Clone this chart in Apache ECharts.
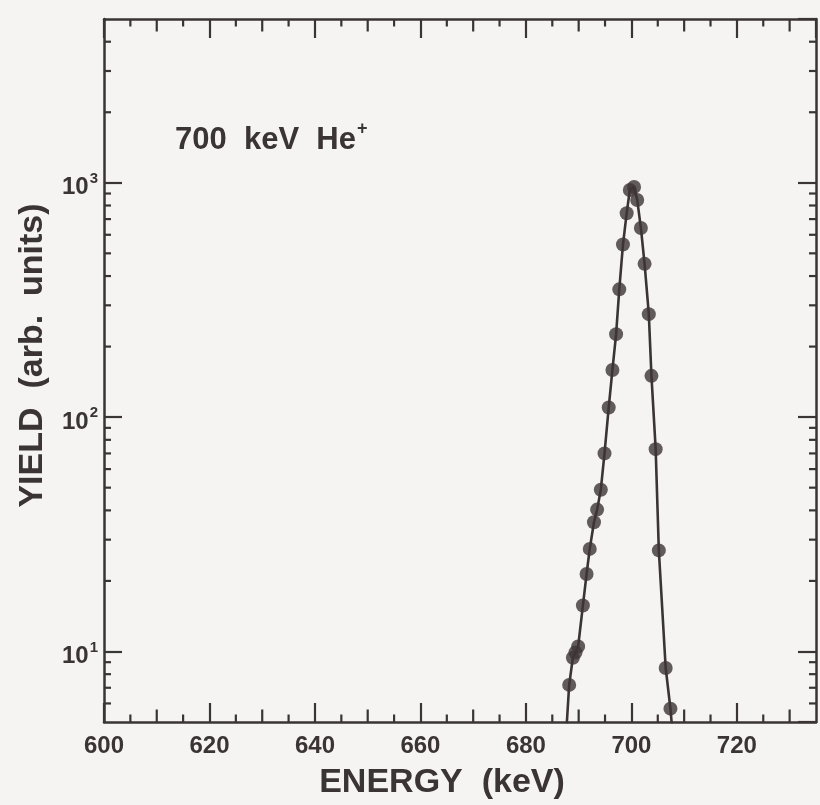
<!DOCTYPE html>
<html><head><meta charset="utf-8">
<script src="https://cdn.jsdelivr.net/npm/echarts@6/dist/echarts.min.js"></script>
<style>html,body{margin:0;padding:0;background:#f6f4f2}#c{width:820px;height:805px}</style>
</head><body><div id="c"></div>
<script>
// Measured spectrum: energy (keV) and yield (arb. units)
const energy   = [688.2, 688.9, 689.4, 689.9, 690.8, 691.5, 692.1, 692.9, 693.5, 694.2, 694.9, 695.7, 696.4, 697.1, 697.7, 698.4, 699.1, 699.7, 700.5, 701.1, 701.8, 702.5, 703.3, 703.8, 704.6, 705.2, 706.5, 707.4];
const yieldVal = [7.2, 9.4, 9.9, 10.5, 15.7, 21.4, 27.4, 35.6, 40.3, 49, 70, 110, 159, 226, 351, 545, 741, 931, 960, 845, 641, 451, 275, 150, 73, 27, 8.5, 5.7];
// Fitted curve continues below the plot bottom at both ends
const tailEnergy = [687.5, 708.0];
const tailYield  = [4.0, 4.0];
// Axis ticks
const xLabels = [600, 620, 640, 660, 680, 700, 720];
const xMidTicks = [610, 630, 650, 670, 690, 710, 730];
const xMinorTicks = [605, 615, 625, 635, 645, 655, 665, 675, 685, 695, 705, 715, 725];
const yDecades = [10, 100, 1000];
const yMinorTicks = [6, 7, 8, 9, 20, 30, 40, 50, 60, 70, 80, 90, 200, 300, 400, 500, 600, 700, 800, 900, 2000, 3000, 4000];
const xMin = 600, xMax = 735, yMin = 5, yMax = 5000;

const INK = '#3a3434';
const FONT = '"Liberation Sans", Arial, Helvetica, sans-serif';

const curveData = [[tailEnergy[0], tailYield[0]]]
  .concat(energy.map((e, i) => [e, yieldVal[i]]))
  .concat([[tailEnergy[1], tailYield[1]]]);
const pointData = energy.map((e, i) => [e, yieldVal[i]]);

const tickItems = [];
xMidTicks.forEach(v => tickItems.push({ value: [v, yMin], kind: 'xmid' }));
xMinorTicks.forEach(v => tickItems.push({ value: [v, yMin], kind: 'xmin' }));
yMinorTicks.forEach(v => tickItems.push({ value: [xMin, v], kind: 'ymin' }));

const supMap = { 10: '1', 100: '2', 1000: '3' };

const chart = echarts.init(document.getElementById('c'), null, { renderer: 'canvas' });
const axisLineStyle = { color: INK, width: 2.5 };
chart.setOption({
  backgroundColor: '#f6f4f2',
  animation: false,
  grid: { left: 104, right: 4, top: 19, bottom: 78, containLabel: false },
  xAxis: [{
    type: 'value', min: xMin, max: xMax, interval: 20, position: 'bottom',
    axisLine: { show: true, lineStyle: axisLineStyle },
    axisTick: { show: true, inside: true, length: 19, lineStyle: { color: INK, width: 2.2 } },
    splitLine: { show: false },
    axisLabel: { show: true, color: INK, fontFamily: FONT, fontWeight: 'bold', fontSize: 24, margin: 12,
      showMaxLabel: false,
      formatter: v => xLabels.indexOf(v) >= 0 ? String(v) : '' },
    name: 'ENERGY  (keV)', nameLocation: 'middle', nameGap: 44,
    nameTextStyle: { color: INK, fontFamily: FONT, fontWeight: 'bold', fontSize: 34, padding: [0, 36, 0, 0] }
  }, {
    type: 'value', min: xMin, max: xMax, interval: 20, position: 'top',
    axisLine: { show: true, lineStyle: axisLineStyle },
    axisTick: { show: true, inside: true, length: 19, lineStyle: { color: INK, width: 2.2 } },
    splitLine: { show: false }, axisLabel: { show: false }
  }],
  yAxis: [{
    type: 'log', logBase: 10, min: yMin, max: yMax, position: 'left',
    axisLine: { show: true, lineStyle: axisLineStyle },
    axisTick: { show: true, inside: true, length: 18, lineStyle: { color: INK, width: 2.2 } },
    splitLine: { show: false },
    axisLabel: { show: true, margin: 6, showMinLabel: false, showMaxLabel: false,
      formatter: v => {
        const r = Math.round(v);
        return yDecades.indexOf(r) >= 0 && Math.abs(v - r) < 1e-6 ? '{b|10}{s|' + supMap[r] + '}' : '';
      },
      rich: {
        b: { color: INK, fontFamily: FONT, fontWeight: 'bold', fontSize: 24, padding: [10, 0, 0, 0] },
        s: { color: INK, fontFamily: FONT, fontWeight: 'bold', fontSize: 15, padding: [0, 0, 8, 1] }
      }
    },
    name: 'YIELD  (arb.  units)', nameLocation: 'middle', nameGap: 54,
    nameTextStyle: { color: INK, fontFamily: FONT, fontWeight: 'bold', fontSize: 34, padding: [0, 0, 0, 30] }
  }, {
    type: 'log', logBase: 10, min: yMin, max: yMax, position: 'right',
    axisLine: { show: true, lineStyle: axisLineStyle },
    axisTick: { show: true, inside: true, length: 18, lineStyle: { color: INK, width: 2.2 } },
    splitLine: { show: false }, axisLabel: { show: false }
  }],
  graphic: [{
    type: 'text', left: 175, top: 120,
    style: {
      text: '{t|700  keV  He}{s|+}',
      rich: {
        t: { fill: INK, fontFamily: FONT, fontWeight: 'bold', fontSize: 31, padding: [8, 0, 0, 0] },
        s: { fill: INK, fontFamily: FONT, fontWeight: 'bold', fontSize: 18, padding: [0, 0, 14, 1] }
      }
    }
  }],
  series: [{
    type: 'custom', xAxisIndex: 0, yAxisIndex: 0, clip: false, silent: true,
    data: tickItems,
    renderItem: (params, api) => {
      const item = tickItems[params.dataIndex];
      const st = { stroke: INK, lineWidth: 2.2 };
      if (item.kind === 'ymin') {
        const v = api.value(1);
        const pL = api.coord([xMin, v]);
        const pR = api.coord([xMax, v]);
        return { type: 'group', children: [
          { type: 'line', shape: { x1: pL[0], y1: pL[1], x2: pL[0] + 7, y2: pL[1] }, style: st },
          { type: 'line', shape: { x1: pR[0], y1: pR[1], x2: pR[0] - 7, y2: pR[1] }, style: st }
        ] };
      }
      const len = item.kind === 'xmid' ? 12.5 : 7.5;
      const x = api.value(0);
      const pB = api.coord([x, yMin]);
      const pT = api.coord([x, yMax]);
      return { type: 'group', children: [
        { type: 'line', shape: { x1: pB[0], y1: pB[1], x2: pB[0], y2: pB[1] - len }, style: st },
        { type: 'line', shape: { x1: pT[0], y1: pT[1], x2: pT[0], y2: pT[1] + len }, style: st }
      ] };
    },
    z: 5
  }, {
    type: 'line', data: curveData, showSymbol: false, smooth: false,
    lineStyle: { color: INK, width: 2.6 }, z: 3
  }, {
    type: 'scatter', data: pointData, symbol: 'circle', symbolSize: 14,
    itemStyle: { color: '#3d3536' }, z: 4
  }]
});
</script></body></html>
